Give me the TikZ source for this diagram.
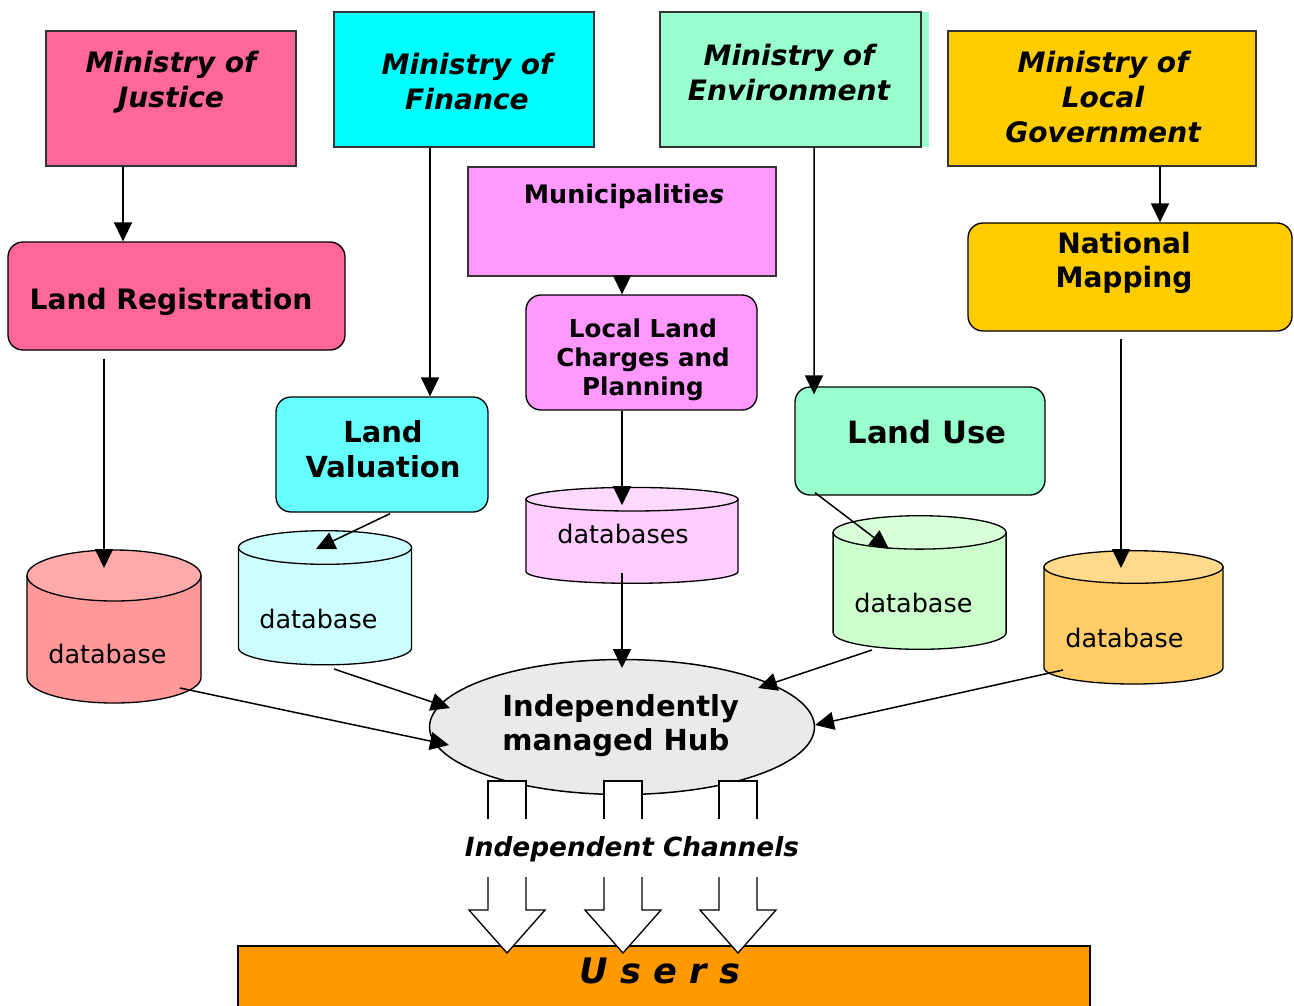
\documentclass[tikz,border=0pt]{standalone}
\usepackage{fontspec}
\setmainfont{DejaVu Sans}
\usetikzlibrary{arrows.meta, fit, shapes.geometric}

\definecolor{justice}{HTML}{FF6699}
\definecolor{finance}{HTML}{00FFFF}
\definecolor{valcyan}{HTML}{66FFFF}
\definecolor{dbcyan}{HTML}{CCFFFF}
\definecolor{munic}{HTML}{FF99FF}
\definecolor{dbpink}{HTML}{FFCCFF}
\definecolor{dbpinktop}{HTML}{FFD9FF}
\definecolor{envgreen}{HTML}{99FFCC}
\definecolor{dbgreen}{HTML}{CCFFCC}
\definecolor{dbgreentop}{HTML}{D9FFD9}
\definecolor{localgov}{HTML}{FFCC00}
\definecolor{dborange}{HTML}{FFCC66}
\definecolor{dborangetop}{HTML}{FFD98C}
\definecolor{dbred}{HTML}{FF9999}
\definecolor{dbredtop}{HTML}{FFAAAA}
\definecolor{hubgrey}{HTML}{EAEAEA}
\definecolor{users}{HTML}{FF9900}

\tikzset{
  ministry/.style={draw=black!80, line width=0.85pt, inner sep=0pt},
  office/.style={draw, rounded corners=0.3cm, line width=0.75pt, inner sep=0pt},
  mtext/.style={font=\fontsize{16}{19.9}\selectfont\bfseries\itshape, align=center, inner sep=0pt, anchor=north},
  otext/.style={font=\fontsize{16}{19.4}\selectfont\bfseries, align=center, inner sep=0pt, anchor=north},
  dbtext/.style={font=\fontsize{14.5}{17}\selectfont, inner sep=0pt, anchor=base west},
  link/.style={-{Triangle[length=0.38cm,width=0.36cm]}, line width=0.85pt},
  channel/.style={fill=white, draw, line width=0.75pt}
}

% name, centre x, top y, bottom y, x radius, y radius, body, lid
\newcommand{\dbase}[8]{%
  \filldraw[fill=#7, line width=0.75pt] (#2-#5,-#3) -- (#2-#5,-#4) arc (180:360:#5 and #6) -- (#2+#5,-#3) -- cycle;
  \filldraw[fill=#8, line width=0.75pt] (#2,-#3) ellipse (#5 and #6);
  \coordinate (#1) at (#2,-#3);
}

\begin{document}
\begin{tikzpicture}[x=0.02cm, y=0.02cm]
\useasboundingbox (0,0) rectangle (1294,-1005);

% ministries
\node[ministry, fill=justice, fit={(46,-31) (296,-166)}] (mjust) {};
\node[mtext] (tjust) at (171,-50.6) {Ministry of\\Justice};
\node[ministry, fill=finance, fit={(334,-12) (594,-147)}] (mfin) {};
\node[mtext] (tfin) at (467,-52.6) {Ministry of\\Finance};
\fill[envgreen] (660,-12) rectangle (929,-147);
\node[ministry, fill=envgreen, fit={(660,-12) (921,-147)}] (menv) {};
\node[mtext] (tenv) at (789,-43.6) {Ministry of\\Environment};
\node[ministry, fill=localgov, fit={(948,-31) (1256,-166)}] (mlocal) {};
\node[mtext] (tlocal) at (1103,-50.6) {Ministry of\\Local\\Government};
\node[ministry, fill=munic, fit={(468,-167) (776,-276)}] (munic) {};
\node[otext, font=\fontsize{14.5}{17}\selectfont\bfseries, anchor=base] (tmunic) at (624,-203) {Municipalitie{\itshape s}};

% offices
\node[office, fill=justice, fit={(8,-242) (345,-350)}] (lreg) {};
\node[otext, anchor=base] (treg) at (171,-309) {Land Registration};
\node[office, fill=localgov, fit={(968,-223) (1292,-331)}] (natmap) {};
\node[otext] (tnat) at (1124,-231.6) {National\\Mapping};
\node[office, fill=munic, fit={(526,-295) (757,-410)}] (llc) {};
\node[otext, font=\fontsize{14}{16.5}\selectfont\bfseries] (tllc) at (643,-318.3) {Local Land\\Charges and\\Planning};
\node[office, fill=valcyan, fit={(276,-397) (488,-512)}] (lval) {};
\node[otext, font=\fontsize{16.5}{19.9}\selectfont\bfseries] (tval) at (383,-420) {Land\\Valuation};
\node[office, fill=envgreen, fit={(795,-387) (1045,-495)}] (luse) {};
\node[otext, font=\fontsize{17.5}{20}\selectfont\bfseries, anchor=base] (tuse) at (927,-443) {Land Use};

% databases
\dbase{dbjust}{114}{575.5}{677.5}{87}{25.5}{dbred}{dbredtop}
\dbase{dbval}{325}{547.5}{648}{86.5}{16.8}{dbcyan}{dbcyan}
\dbase{dbmun}{632}{499.2}{571.5}{106}{11.8}{dbpink}{dbpinktop}
\dbase{dbuse}{919.6}{532.4}{632.6}{86.5}{16.7}{dbgreen}{dbgreentop}
\dbase{dbmap}{1133.5}{567}{667.7}{89.5}{16.3}{dborange}{dborangetop}
\node[dbtext] (tdbjust) at (48,-663) {database};
\node[dbtext] (tdbval) at (259,-628) {database};
\node[dbtext] (tdbmun) at (557,-543) {databases};
\node[dbtext] (tdbuse) at (854,-612) {database};
\node[dbtext] (tdbmap) at (1065,-647) {database};

% hub and users
\node[ellipse, draw, fill=hubgrey, line width=0.85pt, minimum width=7.7cm, minimum height=2.7cm, inner sep=0pt] (hub) at (622,-727) {};
\node[otext, font=\fontsize{16.5}{19.4}\selectfont\bfseries, align=left, anchor=north west] (thub) at (502,-694) {Independently\\managed Hub};
\node[draw, fill=users, line width=0.75pt, inner sep=0pt, fit={(238,-946) (1090,-1015)}] (users) {};
\node[font=\fontsize{20}{24}\selectfont\bfseries\itshape, anchor=base, inner sep=0pt] (tusers) at (660,-983) {U s e r s};

% links
\draw[link] ([shift={(-48,0)}]mjust.south) -- ([shift={(-53.5,0)}]lreg.north);
\draw[link] ([shift={(-34,0)}]mfin.south) -- ([shift={(48,0)}]lval.north);
\draw[link] (munic.south) -- ([shift={(-19.5,0)}]llc.north);
\draw[link] ([shift={(23.5,0)}]menv.south) -- ([shift={(-106,-8)}]luse.north);
\draw[link] ([shift={(58,0)}]mlocal.south) -- ([shift={(30,0)}]natmap.north);

\draw[link] ([shift={(-72.5,-8)}]lreg.south) -- ([shift={(-10,7.5)}]dbjust);
\draw[link] ([shift={(8,-1)}]lval.south) -- ([shift={(-9,-1.5)}]dbval);
\draw[link] ([shift={(-19.5,0)}]llc.south) -- ([shift={(-10,-6)}]dbmun);
\draw[link] ([shift={(-105,3)}]luse.south) -- ([shift={(-30.6,-16.6)}]dbuse);
\draw[link] ([shift={(-9,-7)}]natmap.south) -- ([shift={(-12.5,-1)}]dbmap);

\draw[link] ([shift={(66,-112.5)}]dbjust) -- ([shift={(-173,-18)}]hub.center);
\draw[link] ([shift={(9,-121.5)}]dbval) -- ([shift={(-172,19)}]hub.center);
\draw[link] ([shift={(-10,-73.8)}]dbmun) -- ([shift={(0,59)}]hub.center);
\draw[link] ([shift={(-47.6,-117.6)}]dbuse) -- ([shift={(136,39)}]hub.center);
\draw[link] ([shift={(-70.5,-103)}]dbmap) -- ([shift={(193,2)}]hub.center);

% channels
\foreach \cx in {507,623,738} {
  \filldraw[channel] (\cx-19,-819) -- (\cx-19,-781) -- (\cx+19,-781) -- (\cx+19,-819);
  \filldraw[channel] (\cx-19,-877) -- (\cx-19,-910) -- (\cx-38,-910) -- (\cx,-953)
    -- (\cx+38,-910) -- (\cx+19,-910) -- (\cx+19,-877);
}
\node[font=\fontsize{15}{18}\selectfont\bfseries\itshape, anchor=base, inner sep=0pt] (tchan) at (632,-856) {Independent Channels};
\end{tikzpicture}
\end{document}
